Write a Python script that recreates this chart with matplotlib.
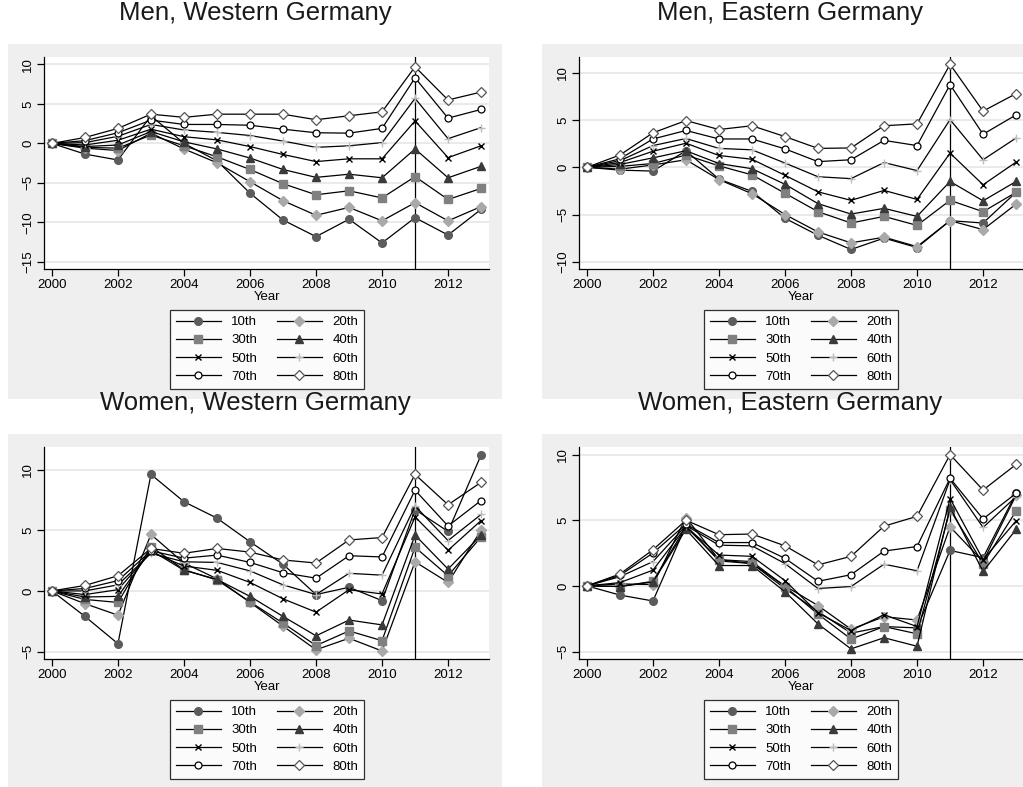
import matplotlib
matplotlib.use("Agg")
import matplotlib.pyplot as plt
from matplotlib.patches import Rectangle

plt.rcParams['font.family'] = ['Liberation Sans', 'DejaVu Sans']

years = [2000, 2001, 2002, 2003, 2004, 2005, 2006, 2007, 2008, 2009, 2010, 2011, 2012, 2013]
labels = ["10th", "20th", "30th", "40th", "50th", "60th", "70th", "80th"]
xticks = [2000, 2002, 2004, 2006, 2008, 2010, 2012]
titles = ["Men, Western Germany", "Men, Eastern Germany",
          "Women, Western Germany", "Women, Eastern Germany"]

# Men, Western Germany
mw_p10 = [0, -1.35, -2.1, 3.5, 0.0, -2.2, -6.3, -9.7, -11.8, -9.6, -12.6, -9.4, -11.6, -8.35]
mw_p20 = [0, -0.6, -0.9, 1.3, -0.7, -2.45, -4.85, -7.25, -9.1, -8.1, -9.8, -7.5, -9.8, -8.0]
mw_p30 = [0, -0.5, -0.6, 1.05, -0.3, -1.7, -3.3, -5.1, -6.5, -6.0, -6.9, -4.2, -7.1, -5.7]
mw_p40 = [0, -0.4, -0.2, 1.5, 0.2, -0.7, -1.85, -3.3, -4.3, -3.9, -4.35, -0.7, -4.35, -2.9]
mw_p50 = [0, -0.2, 0.4, 1.8, 0.85, 0.45, -0.4, -1.4, -2.3, -1.95, -1.95, 2.85, -1.8, -0.3]
mw_p60 = [0, 0.1, 0.9, 2.4, 1.7, 1.4, 1.0, 0.3, -0.5, -0.3, 0.1, 5.7, 0.6, 2.0]
mw_p70 = [0, 0.35, 1.35, 2.95, 2.4, 2.4, 2.3, 1.8, 1.35, 1.3, 1.9, 8.3, 3.2, 4.3]
mw_p80 = [0, 0.75, 1.9, 3.7, 3.3, 3.7, 3.7, 3.7, 3.0, 3.5, 4.0, 9.7, 5.5, 6.5]

# Men, Eastern Germany
me_p10 = [0, -0.3, -0.4, 1.75, -1.25, -2.55, -5.4, -7.2, -8.7, -7.5, -8.5, -5.65, -5.9, -2.65]
me_p20 = [0, -0.2, 0.25, 0.8, -1.3, -2.8, -5.0, -6.85, -8.0, -7.4, -8.4, -5.65, -6.6, -3.9]
me_p30 = [0, 0.1, 0.4, 1.3, 0.15, -0.8, -2.75, -4.7, -5.9, -5.2, -6.15, -3.5, -4.7, -2.65]
me_p40 = [0, 0.3, 1.0, 1.75, 0.4, -0.15, -1.8, -3.85, -4.95, -4.35, -5.2, -1.5, -3.55, -1.5]
me_p50 = [0, 0.5, 1.7, 2.55, 1.25, 0.85, -0.85, -2.6, -3.5, -2.45, -3.4, 1.5, -1.85, 0.55]
me_p60 = [0, 0.7, 2.3, 3.05, 2.0, 1.85, 0.45, -1.0, -1.2, 0.5, -0.35, 5.05, 0.8, 3.1]
me_p70 = [0, 0.9, 3.0, 3.9, 3.0, 3.0, 1.95, 0.6, 0.8, 2.85, 2.3, 8.75, 3.5, 5.55]
me_p80 = [0, 1.3, 3.65, 4.95, 4.0, 4.4, 3.25, 2.0, 2.05, 4.4, 4.6, 10.9, 5.95, 7.8]

# Women, Western Germany
ww_p10 = [0, -2.1, -4.35, 9.6, 7.35, 6.0, 4.05, 2.2, -0.3, 0.3, -0.8, 6.7, 4.9, 11.2]
ww_p20 = [0, -1.05, -2.0, 4.65, 2.3, 1.0, -0.95, -2.9, -4.85, -3.9, -4.95, 2.4, 0.7, 5.0]
ww_p30 = [0, -0.7, -0.95, 3.65, 1.75, 0.9, -0.9, -2.65, -4.5, -3.3, -4.1, 3.6, 1.25, 4.45]
ww_p40 = [0, -0.5, -0.45, 3.35, 1.7, 0.95, -0.45, -2.1, -3.7, -2.4, -2.8, 4.6, 1.8, 4.6]
ww_p50 = [0, -0.3, 0.1, 3.2, 2.05, 1.7, 0.7, -0.65, -1.75, 0.1, -0.25, 6.1, 3.35, 5.8]
ww_p60 = [0, 0.0, 0.5, 3.1, 2.4, 2.35, 1.65, 0.5, -0.3, 1.45, 1.3, 7.0, 4.15, 6.3]
ww_p70 = [0, 0.2, 0.85, 3.3, 2.7, 2.95, 2.35, 1.5, 1.05, 2.9, 2.8, 8.3, 5.35, 7.45]
ww_p80 = [0, 0.45, 1.25, 3.5, 3.1, 3.5, 3.2, 2.55, 2.3, 4.2, 4.4, 9.6, 7.1, 8.95]

# Women, Eastern Germany
we_p10 = [0, -0.7, -1.15, 4.6, 1.9, 1.7, -0.2, -1.95, -3.6, -3.1, -3.2, 2.7, 2.15, 7.05]
we_p20 = [0, 0.15, 0.1, 5.2, 2.0, 1.7, 0.0, -1.5, -3.3, -2.35, -2.6, 4.5, 1.85, 6.9]
we_p30 = [0, -0.05, 0.35, 4.5, 2.0, 1.85, -0.05, -2.15, -4.05, -3.1, -3.65, 5.8, 1.7, 5.7]
we_p40 = [0, -0.05, 0.3, 4.3, 1.55, 1.55, -0.45, -2.9, -4.8, -3.95, -4.6, 6.0, 1.1, 4.3]
we_p50 = [0, 0.25, 1.2, 4.5, 2.35, 2.25, 0.4, -2.05, -3.4, -2.2, -3.1, 6.65, 2.0, 4.95]
we_p60 = [0, 0.7, 1.85, 4.6, 3.1, 3.05, 1.7, -0.2, -0.05, 1.65, 1.15, 8.1, 4.45, 6.8]
we_p70 = [0, 0.8, 2.5, 4.7, 3.3, 3.3, 2.1, 0.35, 0.85, 2.65, 3.0, 8.2, 5.1, 7.05]
we_p80 = [0, 0.9, 2.75, 5.0, 3.9, 3.95, 3.05, 1.6, 2.25, 4.55, 5.3, 10.0, 7.3, 9.25]

panels = [
    [mw_p10, mw_p20, mw_p30, mw_p40, mw_p50, mw_p60, mw_p70, mw_p80],
    [me_p10, me_p20, me_p30, me_p40, me_p50, me_p60, me_p70, me_p80],
    [ww_p10, ww_p20, ww_p30, ww_p40, ww_p50, ww_p60, ww_p70, ww_p80],
    [we_p10, we_p20, we_p30, we_p40, we_p50, we_p60, we_p70, we_p80],
]
yticks_list = [[-15, -10, -5, 0, 5, 10], [-10, -5, 0, 5, 10], [-5, 0, 5, 10], [-5, 0, 5, 10]]
ylims = [(-15.9, 10.94), (-10.77, 11.68), (-5.61, 11.86), (-5.57, 10.58)]

styles = [
    dict(marker='o', mfc='#5c5c5c', mec='#5c5c5c', ms=5.5),
    dict(marker='D', mfc='#a9a9a9', mec='#a9a9a9', ms=4.8),
    dict(marker='s', mfc='#808080', mec='#808080', ms=5.2),
    dict(marker='^', mfc='#3a3a3a', mec='#3a3a3a', ms=5.5),
    dict(marker='x', mfc='black', mec='black', ms=4.0, mew=1.0),
    dict(marker='+', mfc='#bdbdbd', mec='#bdbdbd', ms=5.5, mew=1.0),
    dict(marker='o', mfc='white', mec='black', ms=5.0, mew=0.9),
    dict(marker='D', mfc='white', mec='#555555', ms=4.8, mew=0.9),
]
# row-wise legend order (10th 20th / 30th 40th / ...)
legend_order = [0, 2, 4, 6, 1, 3, 5, 7]

W, H = 1023, 787
fig = plt.figure(figsize=(W / 100, H / 100), dpi=100)
fig.patch.set_facecolor('white')


def frect(l, t, r, b):
    return [l / W, 1 - b / H, (r - l) / W, (b - t) / H]


# panel geometry in pixels
bg_boxes = [(8, 44, 502, 399), (542, 44, 1023, 399), (8, 434, 502, 787), (542, 434, 1023, 787)]
ax_boxes = [(44, 57, 489, 269), (579, 57, 1024, 269), (44, 447, 489, 659), (579, 447, 1024, 659)]
title_pos = [(255, 13), (790, 13), (255, 403), (790, 403)]
legend_pos = [(267, 310), (801, 310), (267, 700), (801, 700)]

for i in range(4):
    l, t, r, b = bg_boxes[i]
    fig.patches.append(Rectangle((l / W, 1 - b / H), (r - l) / W, (b - t) / H,
                                 transform=fig.transFigure, facecolor='#efefef',
                                 edgecolor='none', zorder=-5))
    tx, ty = title_pos[i]
    fig.text(tx / W, 1 - ty / H, titles[i], ha='center', va='center', fontsize=18.5,
             color='#1a1a1a')

    ax = fig.add_axes(frect(*ax_boxes[i]))
    ax.set_zorder(1)
    ax.set_facecolor('white')
    for sp in ['top', 'right']:
        ax.spines[sp].set_visible(False)
    for sp in ['left', 'bottom']:
        ax.spines[sp].set_color('black')
        ax.spines[sp].set_linewidth(0.9)

    ax.set_xlim(1999.76, 2013.24)
    ax.set_ylim(*ylims[i])
    ax.set_xticks(xticks)
    ax.set_yticks(yticks_list[i])
    ax.set_yticklabels([str(v).replace('-', '\u2212') for v in yticks_list[i]],
                       rotation=90, va='center')
    ax.tick_params(axis='both', direction='out', length=5, width=0.9, labelsize=9.5,
                   colors='black')
    ax.tick_params(axis='x', pad=2)
    ax.tick_params(axis='y', pad=2)
    ax.grid(axis='y', color='#e6e6e6', linewidth=1.2)
    ax.set_axisbelow(True)
    ax.set_xlabel('Year', fontsize=9.5, labelpad=0)

    ax.axvline(2011, color='black', linewidth=0.9, zorder=2)

    handles = []
    for s, series in enumerate(panels[i]):
        h, = ax.plot(years, series, color='black', linewidth=0.9, zorder=3 + s,
                     label=labels[s], clip_on=False, **styles[s])
        handles.append(h)

    lx, ly = legend_pos[i]
    leg = ax.legend([handles[k] for k in legend_order], [labels[k] for k in legend_order],
                    loc='upper center', bbox_to_anchor=(lx / W, 1 - ly / H),
                    bbox_transform=fig.transFigure, ncol=2, fontsize=9.5,
                    frameon=True, fancybox=False, edgecolor='black',
                    handlelength=3.4, handletextpad=0.8, columnspacing=1.5,
                    labelspacing=0.45, borderpad=0.45, borderaxespad=0)
    leg.get_frame().set_linewidth(0.9)

fig.savefig('out.png', dpi=100, facecolor='white')
